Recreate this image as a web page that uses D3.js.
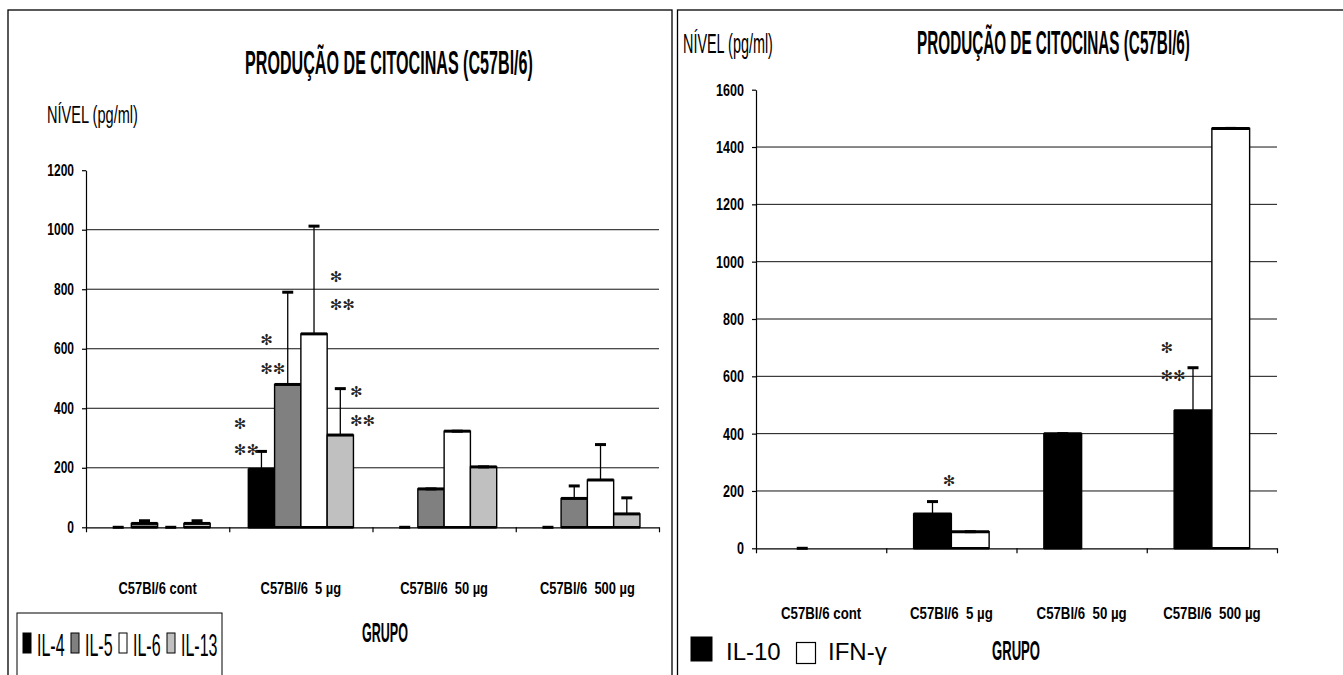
<!DOCTYPE html>
<html>
<head>
<meta charset="utf-8">
<script src="https://cdn.jsdelivr.net/npm/d3@7"></script>
<style>
  body { margin: 0; background: #fff; }
  svg { display: block; }
  text { white-space: pre; }
</style>
</head>
<body>
<svg id="chart" width="1343" height="675"></svg>
<script>
const FONT = '"Liberation Sans", Arial, sans-serif';

// groups (same for both charts)
const groups = ["C57Bl/6 cont", "C57Bl/6  5 µg", "C57Bl/6  50 µg", "C57Bl/6  500 µg"];

// left chart - IL-4, IL-5, IL-6, IL-13
const th2Names = ["IL-4", "IL-5", "IL-6", "IL-13"];
const il4 = [0, 195, 0, 0];
const il4Err = [0, 60, 0, 0];
const il5 = [13, 480, 129, 97];
const il5Err = [9, 310, 0, 42];
const il6 = [0, 650, 323, 159];
const il6Err = [0, 362, 0, 119];
const il13 = [13, 310, 203, 45];
const il13Err = [9, 156, 0, 54];
const th2Ticks = [0, 200, 400, 600, 800, 1000, 1200];

// right chart - IL-10, IFN-gamma
const th1Names = ["IL-10", "IFN-γ"];
const il10 = [0, 120, 400, 480];
const il10Err = [0, 43, 0, 150];
const ifng = [0, 58, 0, 1465];
const ifngErr = [null, 0, null, 0];
const th1Ticks = [0, 200, 400, 600, 800, 1000, 1200, 1400, 1600];

// significance marks: group index, series index, text, level (pg/ml), shift in bar widths
const th2Marks = [
  [1, 0, "*", 349, -0.55], [1, 0, "**", 260, -0.55],
  [1, 1, "*", 630, -0.55], [1, 1, "**", 534, -0.55],
  [1, 2, "*", 844, 1.1], [1, 2, "**", 747, 1.1],
  [1, 3, "*", 456, 0.87], [1, 3, "**", 360, 0.87]
];
const th1Marks = [
  [1, 0, "*", 235, 0.77],
  [3, 0, "*", 700, -0.36], [3, 0, "**", 601, -0.36]
];

const svg = d3.select("#chart");

// narrow the text horizontally (the original uses a condensed face)
function squeeze(sel, f) {
  sel.each(function () {
    const t = d3.select(this);
    const x = +t.attr("x") || 0, y = +t.attr("y") || 0;
    t.attr("x", 0).attr("y", 0)
      .attr("transform", "translate(" + x + "," + y + ") scale(" + f + ",1)");
  });
}

function label(txt, x, y, size, weight, anchor, width) {
  const t = svg.append("text")
    .attr("x", x).attr("y", y)
    .attr("font-family", FONT)
    .attr("font-size", size)
    .attr("font-weight", weight)
    .attr("text-anchor", anchor)
    .text(txt);
  if (width) squeeze(t, width / t.node().getComputedTextLength());
  return t;
}

function drawPanel(p) {
  const g = svg.append("g");
  const y = d3.scaleLinear().domain([0, p.max]).range([p.y0, p.y1]);
  const x = d3.scaleBand().domain(groups).range([p.x0, p.x1]);
  const n = p.series.length;
  const bw = x.bandwidth() / (n + 1.45);
  const xs = d3.scaleBand().domain(d3.range(n))
    .range([(x.bandwidth() - bw * n) / 2, (x.bandwidth() + bw * n) / 2]);

  // gridlines
  g.selectAll(".grid").data(p.ticks.filter(t => t > 0 && t < p.max)).join("line")
    .attr("x1", p.x0).attr("x2", p.x1)
    .attr("y1", d => y(d)).attr("y2", d => y(d))
    .attr("stroke", "#111").attr("stroke-width", 1);

  // y axis
  const ya = g.append("g").attr("transform", "translate(" + p.x0 + ",0)")
    .call(d3.axisLeft(y).tickValues(p.ticks).tickFormat(d3.format("d"))
      .tickSize(4).tickSizeOuter(0).tickPadding(8));
  ya.attr("font-family", FONT).attr("font-size", p.tickFont).attr("font-weight", "bold");
  ya.selectAll("text").attr("fill", "#000");
  ya.selectAll("path,line").attr("stroke", "#000").attr("stroke-width", 1.2);
  squeeze(ya.selectAll("text"), p.squeezeTick);

  // x axis
  const xl = d3.scaleLinear().domain([0, groups.length]).range([p.x0, p.x1]);
  const xa = g.append("g").attr("transform", "translate(0," + p.y0 + ")")
    .call(d3.axisBottom(xl).tickValues(d3.range(groups.length + 1)).tickFormat("").tickSize(5).tickSizeOuter(0));
  xa.selectAll("path,line").attr("stroke", "#000").attr("stroke-width", 1.2);

  const cl = g.selectAll(".cat").data(groups).join("text")
    .attr("x", d => x(d) + x.bandwidth() / 2)
    .attr("y", p.labelY)
    .attr("text-anchor", "middle")
    .attr("font-family", FONT).attr("font-size", p.catFont).attr("font-weight", "bold")
    .text(d => d);
  squeeze(cl, p.squeezeCat);

  // bars
  p.series.forEach((s, i) => {
    s.values.forEach((v, j) => {
      const bx = x(groups[j]) + xs(i);
      if (v > 0) {
        g.append("rect")
          .attr("x", bx).attr("y", y(v))
          .attr("width", bw).attr("height", p.y0 - y(v))
          .attr("fill", s.color).attr("stroke", "#000").attr("stroke-width", 1.4);
        g.append("line")
          .attr("x1", bx).attr("x2", bx + bw).attr("y1", y(v)).attr("y2", y(v))
          .attr("stroke", "#000").attr("stroke-width", 3);
        g.append("line")
          .attr("x1", bx).attr("x2", bx + bw).attr("y1", p.y0).attr("y2", p.y0)
          .attr("stroke", "#000").attr("stroke-width", 2.6);
      }
      const e = s.errs[j];
      if (e !== null) {
        const cx = bx + bw / 2;
        if (e > 0) {
          g.append("line")
            .attr("x1", cx).attr("x2", cx).attr("y1", y(v)).attr("y2", y(v + e))
            .attr("stroke", "#000").attr("stroke-width", 1.3);
        }
        g.append("line")
          .attr("x1", cx - 5.5).attr("x2", cx + 5.5).attr("y1", y(v + e)).attr("y2", y(v + e))
          .attr("stroke", "#000").attr("stroke-width", 3);
      }
    });
  });

  // significance marks
  p.marks.forEach(m => {
    g.append("text")
      .attr("x", x(groups[m[0]]) + xs(m[1]) + m[4] * bw)
      .attr("y", y(m[3]))
      .attr("dy", "0.36em")
      .attr("font-family", '"DejaVu Sans", sans-serif')
      .attr("font-size", 15)
      .attr("fill", "#222")
      .text(m[2] === "*" ? "✻" : "✻✻");
  });
}

// frames
svg.append("rect").attr("x", 8).attr("y", 10).attr("width", 664).attr("height", 700)
  .attr("fill", "none").attr("stroke", "#000").attr("stroke-width", 1.3);
svg.append("rect").attr("x", 677.5).attr("y", 10).attr("width", 700).attr("height", 700)
  .attr("fill", "none").attr("stroke", "#000").attr("stroke-width", 1.3);

// left chart
drawPanel({
  x0: 86, x1: 659, y0: 527.3, y1: 170.2, max: 1200, ticks: th2Ticks,
  tickFont: 16, squeezeTick: 0.75, catFont: 17, squeezeCat: 0.76, labelY: 594,
  series: [
    { name: th2Names[0], values: il4, errs: il4Err, color: "#000000" },
    { name: th2Names[1], values: il5, errs: il5Err, color: "#808080" },
    { name: th2Names[2], values: il6, errs: il6Err, color: "#ffffff" },
    { name: th2Names[3], values: il13, errs: il13Err, color: "#c0c0c0" }
  ],
  marks: th2Marks
});

label("PRODUÇÃO DE CITOCINAS (C57Bl/6)", 389, 74, 33, "bold", "middle", 288);
label("NÍVEL (pg/ml)", 47, 123, 24, "normal", "start", 91);
label("GRUPO", 385, 642, 28, "bold", "middle", 46);

// left legend
svg.append("rect").attr("x", 17).attr("y", 613).attr("width", 205).attr("height", 80)
  .attr("fill", "#fff").attr("stroke", "#000").attr("stroke-width", 1);
const th2Colors = ["#000000", "#808080", "#ffffff", "#c0c0c0"];
th2Names.forEach((nm, i) => {
  const lx = 23 + i * 48;
  svg.append("rect").attr("x", lx).attr("y", 633).attr("width", 8).attr("height", 20)
    .attr("fill", th2Colors[i]).attr("stroke", "#000").attr("stroke-width", 1);
  const t = label(nm, lx + 14, 656, 32, "normal", "start");
  squeeze(t, 0.5);
});

// right chart
drawPanel({
  x0: 756, x1: 1277, y0: 548.3, y1: 89.7, max: 1600, ticks: th1Ticks,
  tickFont: 17, squeezeTick: 0.74, catFont: 17, squeezeCat: 0.78, labelY: 619,
  series: [
    { name: th1Names[0], values: il10, errs: il10Err, color: "#000000" },
    { name: th1Names[1], values: ifng, errs: ifngErr, color: "#ffffff" }
  ],
  marks: th1Marks
});

label("PRODUÇÃO DE CITOCINAS (C57Bl/6)", 1053.5, 54, 33, "bold", "middle", 273);
label("NÍVEL (pg/ml)", 683, 53, 28, "normal", "start", 90);
label("GRUPO", 1016, 660, 28, "bold", "middle", 48);

// right legend
svg.append("rect").attr("x", 691).attr("y", 637).attr("width", 21).attr("height", 24)
  .attr("fill", "#000").attr("stroke", "#000").attr("stroke-width", 1);
label(th1Names[0], 726, 660, 24, "normal", "start");
svg.append("rect").attr("x", 796.5).attr("y", 642.5).attr("width", 19).attr("height", 21)
  .attr("fill", "#fff").attr("stroke", "#000").attr("stroke-width", 1.2);
label(th1Names[1], 828, 660, 24, "normal", "start");
</script>
</body>
</html>
